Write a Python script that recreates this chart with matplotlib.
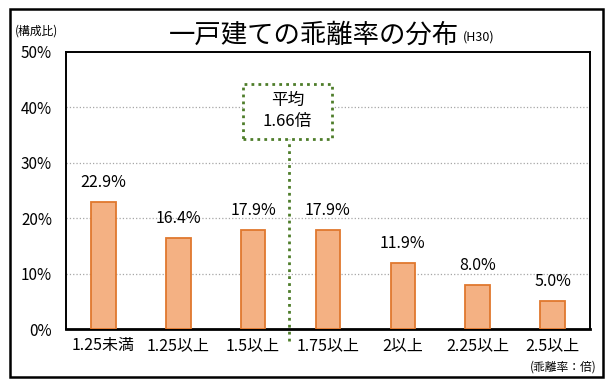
import matplotlib
matplotlib.use("Agg")
import matplotlib.pyplot as plt
from matplotlib.patches import Rectangle

plt.rcParams['font.family'] = ['Noto Sans CJK JP', 'DejaVu Sans']

categories = ["1.25未満", "1.25以上", "1.5以上", "1.75以上", "2以上", "2.25以上", "2.5以上"]
values = [22.9, 16.4, 17.9, 17.9, 11.9, 8.0, 5.0]
value_labels = ["22.9%", "16.4%", "17.9%", "17.9%", "11.9%", "8.0%", "5.0%"]
y_ticks = [0, 10, 20, 30, 40, 50]
y_tick_labels = ["0%", "10%", "20%", "30%", "40%", "50%"]
mean_label = "平均\n1.66倍"

W, H = 612, 383
fig = plt.figure(figsize=(W / 100, H / 100), dpi=100)
ax = fig.add_axes([66 / W, 1 - 329 / H, (590 - 66) / W, (329 - 52) / H])

x = list(range(len(categories)))
ax.bar(x, values, width=0.33, color="#F4B183", edgecolor="#E0782E", linewidth=1.3, zorder=3)
ax.set_xlim(-0.5, len(categories) - 0.5)
ax.set_ylim(0, 50)
ax.set_yticks(y_ticks)
ax.set_yticklabels(y_tick_labels, fontsize=11)
ax.set_xticks(x)
ax.set_xticklabels(categories, fontsize=11.5)
ax.tick_params(length=0, pad=6)
ax.tick_params(axis='y', pad=10)
for yv in y_ticks[1:-1]:
    ax.axhline(yv, color="#A6A6A6", linestyle=":", linewidth=0.9, zorder=1)
for s in ax.spines.values():
    s.set_color("black")
    s.set_linewidth(1.4)
ax.spines['bottom'].set_linewidth(2.0)

for xi, v, lab in zip(x, values, value_labels):
    ax.annotate(lab, (xi, v), xytext=(0, 8), textcoords="offset points",
                ha="center", va="bottom", fontsize=11.5)

# mean marker
mpos = 2.48
green = "#4E7D2A"
ax.plot([mpos, mpos], [-2.2, 34.3], color=green, linestyle=(0, (1, 1.5)),
        linewidth=2, clip_on=False, zorder=4)
ax.add_patch(Rectangle((1.86, 34.3), 1.2, 10.0, fill=True, facecolor="white",
                       edgecolor=green, linestyle=(0, (1, 1.5)), linewidth=2, zorder=5))
ax.text(2.46, 39.3, mean_label, ha="center", va="center", fontsize=12,
        linespacing=1.3, zorder=6)

# texts
fig.text(314 / W, 1 - 35 / H, "一戸建ての乖離率の分布", ha="center", va="center", fontsize=19)
fig.text(463 / W, 1 - 37 / H, "(H30)", ha="left", va="center", fontsize=9)
fig.text(15 / W, 1 - 31 / H, "(構成比)", ha="left", va="center", fontsize=8.5)
fig.text(597 / W, 1 - 367 / H, "(乖離率：倍)", ha="right", va="center", fontsize=8.5)

# outer frame
fig.add_artist(Rectangle((10 / W, 1 - 377 / H), (603 - 10) / W, (377 - 9) / H,
                         transform=fig.transFigure, fill=False, edgecolor="black",
                         linewidth=1.8))

fig.savefig("out.png", dpi=100)
